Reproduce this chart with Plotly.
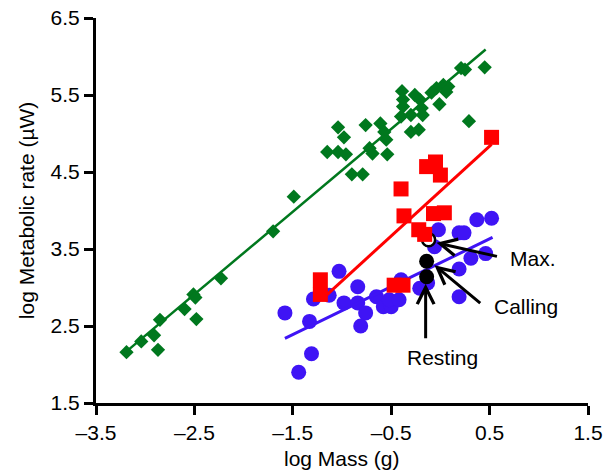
import plotly.graph_objects as go

# ---- data (log Mass g, log Metabolic rate uW) ----
green_x = [-3.19, -3.04, -2.91, -2.87, -2.85, -2.60, -2.51, -2.49, -2.48, -2.23,
           -1.70, -1.49, -1.15, -1.04, -0.98, -1.04, -0.96, -0.76, -0.61, -0.57,
           -0.72, -0.69, -0.54, -0.55, -0.90, -0.79, -0.39, -0.26, -0.38, -0.38,
           -0.21, -0.19, -0.40, -0.30, -0.18, -0.30, -0.22, -0.01, -0.04, 0.03,
           0.08, 0.06, -0.09, 0.21, 0.25, 0.45, 0.29]
green_y = [2.16, 2.30, 2.38, 2.19, 2.58, 2.72, 2.91, 2.87, 2.59, 3.12,
           3.73, 4.18, 4.76, 5.08, 4.95, 4.76, 4.73, 5.11, 5.13, 5.02,
           4.81, 4.74, 4.73, 4.92, 4.47, 4.47, 5.55, 5.50, 5.44, 5.35,
           5.44, 5.33, 5.22, 5.24, 5.24, 5.02, 5.05, 5.38, 5.59, 5.63,
           5.61, 5.54, 5.53, 5.85, 5.83, 5.86, 5.16]

red_x = [-1.22, -1.22, -0.47, -0.38, -0.37, -0.40, -0.14, -0.05, 0.00, -0.07,
         0.04, -0.22, -0.16, 0.52]
red_y = [3.10, 2.91, 3.03, 3.03, 3.93, 4.28, 4.57, 4.63, 4.46, 3.96,
         3.97, 3.75, 3.69, 4.95]

blue_x = [-1.58, -1.31, -1.44, -1.33, -1.29, -1.03, -1.13, -0.98, -0.84, -0.84,
          -0.76, -0.81, -0.65, -0.58, -0.50, -0.52, -0.42, -0.40, -0.21, 0.19,
          0.19, 0.31, 0.46, 0.37, 0.52, 0.19, 0.24, -0.02, -0.06, -0.13]
blue_y = [2.67, 2.14, 1.90, 2.56, 2.85, 3.21, 2.90, 2.80, 3.01, 2.80,
          2.67, 2.50, 2.88, 2.75, 2.75, 2.84, 2.84, 3.10, 2.99, 2.88,
          3.24, 3.38, 3.44, 3.88, 3.90, 3.71, 3.71, 3.75, 3.53, 3.06]

# regression line end points
green_fit_x = [-3.19, 0.46]
green_fit_y = [2.17, 6.09]
red_fit_x = [-1.21, 0.52]
red_fit_y = [2.84, 4.86]
blue_fit_x = [-1.58, 0.53]
blue_fit_y = [2.34, 3.65]

# focal species: resting, calling, max
focal_labels = ["Resting", "Calling", "Max."]
focal_x = [-0.14, -0.14, -0.12]
focal_y = [3.14, 3.34, 3.62]

x_tick_vals = [-3.5, -2.5, -1.5, -0.5, 0.5, 1.5]
x_tick_text = ["\u20133.5", "\u20132.5", "\u20131.5", "\u20130.5", "0.5", "1.5"]
y_tick_vals = [1.5, 2.5, 3.5, 4.5, 5.5, 6.5]
y_tick_text = ["1.5", "2.5", "3.5", "4.5", "5.5", "6.5"]

GREEN = "#00781E"
RED = "#FF0000"
BLUE = "#3F14F5"
FONT = "Liberation Sans, Arial, sans-serif"
FS = 21

fig = go.Figure()
fig.add_trace(go.Scatter(x=green_x, y=green_y, mode="markers",
                         marker=dict(symbol="diamond", size=11, color=GREEN, line=dict(width=0))))
fig.add_trace(go.Scatter(x=green_fit_x, y=green_fit_y, mode="lines",
                         line=dict(color=GREEN, width=2.5)))
fig.add_trace(go.Scatter(x=blue_x, y=blue_y, mode="markers",
                         marker=dict(symbol="circle", size=15, color=BLUE, line=dict(width=0))))
fig.add_trace(go.Scatter(x=blue_fit_x, y=blue_fit_y, mode="lines",
                         line=dict(color=BLUE, width=3)))
fig.add_trace(go.Scatter(x=focal_x[:2], y=focal_y[:2], mode="markers",
                         marker=dict(symbol="circle", size=15, color="black", line=dict(width=0))))
fig.add_trace(go.Scatter(x=focal_x[2:], y=focal_y[2:], mode="markers",
                         marker=dict(symbol="circle", size=13, color="white",
                                     line=dict(width=2.5, color="black"))))
fig.add_trace(go.Scatter(x=red_x, y=red_y, mode="markers",
                         marker=dict(symbol="square", size=15, color=RED, line=dict(width=0))))
fig.add_trace(go.Scatter(x=red_fit_x, y=red_fit_y, mode="lines",
                         line=dict(color=RED, width=3)))

# arrows (head at focal point, tail near label)
arrow_specs = [
    (-0.04, 3.58, 0.59, 3.40),
    (-0.06, 3.29, 0.42, 2.78),
    (-0.15, 3.05, -0.15, 2.32),
]
for hx, hy, tx, ty in arrow_specs:
    fig.add_annotation(x=hx, y=hy, ax=tx, ay=ty, xref="x", yref="y", axref="x", ayref="y",
                       text="", showarrow=True, arrowhead=5, arrowsize=1.1, arrowwidth=3,
                       arrowcolor="black", standoff=0, startstandoff=0)

label_specs = [
    ("Max.", 0.69, 3.38, "left"),
    ("Calling", 0.52, 2.75, "left"),
    ("Resting", 0.025, 2.09, "center"),
]
for txt, lx, ly, anc in label_specs:
    fig.add_annotation(x=lx, y=ly, xref="x", yref="y", text=txt, showarrow=False,
                       xanchor=anc, yanchor="middle",
                       font=dict(family=FONT, size=FS, color="black"))

# axis titles as paper annotations for exact placement
fig.add_annotation(x=0.5, y=-0.145, xref="paper", yref="paper", text="log Mass (g)",
                   showarrow=False, xanchor="center", yanchor="middle",
                   font=dict(family=FONT, size=FS, color="black"))
fig.add_annotation(x=-0.141, y=0.5, xref="paper", yref="paper",
                   text="log Metabolic rate (\u00b5W)", textangle=-90,
                   showarrow=False, xanchor="center", yanchor="middle",
                   font=dict(family=FONT, size=FS, color="black"))

axis_common = dict(showgrid=False, zeroline=False, showline=True, linecolor="black",
                   linewidth=3, ticks="outside", ticklen=9, tickwidth=3, tickcolor="black",
                   automargin=False,
                   tickfont=dict(family=FONT, size=FS, color="black"))

fig.update_xaxes(range=[-3.5, 1.5], tickvals=x_tick_vals, ticktext=x_tick_text, **axis_common)
fig.update_yaxes(range=[1.5, 6.5], tickvals=y_tick_vals, ticktext=y_tick_text, **axis_common)

fig.update_layout(width=613, height=474, showlegend=False,
                  margin=dict(l=96, r=25, t=18, b=71, autoexpand=False),
                  plot_bgcolor="white", paper_bgcolor="white",
                  font=dict(family=FONT, size=FS, color="black"))

fig.write_html("out.html", config={"displayModeBar": False, "staticPlot": True})

# remove the default page margin so the figure sits at the window's top-left corner
with open("out.html", "r", encoding="utf-8") as f:
    html = f.read()
html = html.replace("<head>", "<head><style>html,body{margin:0;padding:0;overflow:hidden;}</style>", 1)
with open("out.html", "w", encoding="utf-8") as f:
    f.write(html)
